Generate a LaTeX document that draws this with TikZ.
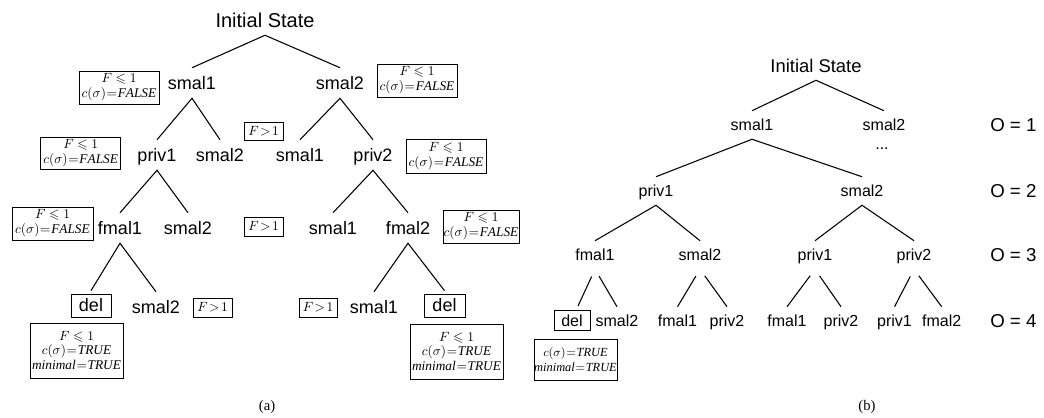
\documentclass[tikz,border=0pt]{standalone}
\usepackage{amssymb}
\usepackage{fontspec}
\setmainfont{Liberation Serif}
\newfontfamily\labelfont{Liberation Sans}
\newcommand{\eqsign}{\mkern1mu{=}\mkern1mu}
\newcommand{\okF}{$F\leqslant1$}
\newcommand{\badF}{$F\mkern2mu{>}\mkern2mu1$}
\newcommand{\cfalse}{$c(\sigma)\eqsign\mathit{FALSE}$}
\newcommand{\ctrue}{$c(\sigma)\eqsign\mathit{TRUE}$}
\newcommand{\mintrue}{$\mathit{minimal}\eqsign\mathit{TRUE}$}
\begin{document}
\begin{tikzpicture}[x=0.75pt,y=-0.75pt,
  lft/.style={font=\labelfont\fontsize{13.5}{16}\selectfont, inner sep=0pt,
    text height=9.7pt, text depth=0pt, minimum height=22.5pt},
  lroot/.style={lft, font=\labelfont\fontsize{15}{18}\selectfont, text height=10.7pt},
  rgt/.style={font=\labelfont\fontsize{12}{14}\selectfont, inner sep=0pt,
    text height=8.6pt, text depth=0pt, minimum height=21pt},
  rroot/.style={rgt, font=\labelfont\fontsize{13.8}{16}\selectfont, text height=9.9pt},
  cond/.style={draw, line width=0.6pt, inner sep=0pt,
    font=\fontsize{10}{11.2}\selectfont, align=center},
  twoline/.style={cond, minimum width=60pt, minimum height=24.75pt},
  gtbox/.style={cond, minimum width=29.25pt, minimum height=14.25pt},
  delbox/.style={draw, line width=0.6pt, inner sep=0pt},
  edge/.style={line width=0.8pt},
  levellab/.style={font=\labelfont\fontsize{14}{16}\selectfont, anchor=west, inner sep=0pt},
  caption/.style={font=\fontsize{11}{13}\selectfont}]
\useasboundingbox (0,0) rectangle (1044,417);

% ---------------- tree (a) ----------------
\node[lroot] (a0) at (265,20) {Initial State};
\node[lft] (a1) at (192,83) {smal1};
\node[lft] (a2) at (340,83) {smal2};
\node[lft] (a11) at (157,155) {priv1};
\node[lft] (a12) at (220,155) {smal2};
\node[lft] (a21) at (300,155) {smal1};
\node[lft] (a22) at (373,155) {priv2};
\node[lft] (a111) at (120,228) {fmal1};
\node[lft] (a112) at (188,228) {smal2};
\node[lft] (a221) at (333,228) {smal1};
\node[lft] (a222) at (408,228) {fmal2};
\node[lft, delbox, minimum width=30pt, minimum height=17.25pt, outer sep=2.5pt] (a1111) at (91,305.5) {del};
\node[lft] (a1112) at (156,307) {smal2};
\node[lft] (a2221) at (374,307) {smal1};
\node[lft, delbox, minimum width=30.75pt, minimum height=17.25pt, outer sep=2.5pt] (a2222) at (444.5,305.5) {del};

\draw[edge] (a1.north) -- (a0.south) -- (a2.north);
\draw[edge] (a11.north) -- (a1.south) -- (a12.north);
\draw[edge] (a21.north) -- (a2.south) -- (a22.north);
\draw[edge] (a111.north) -- (a11.south) -- (a112.north);
\draw[edge] (a221.north) -- (a22.south) -- (a222.north);
\draw[edge] (a1111.north) -- (a111.south) -- (a1112.north);
\draw[edge] (a2221.north) -- (a222.south) -- (a2222.north);

% conditions attached to the states of tree (a)
\node[twoline] (ca1) at (119,87.5) {\okF\\\cfalse};
\node[twoline] (ca2) at (417,80.5) {\okF\\\cfalse};
\node[twoline, minimum height=24pt] (ca11) at (80.7,153) {\okF\\\cfalse};
\node[twoline, minimum height=25.5pt] (ca22) at (446,156) {\okF\\\cfalse};
\node[twoline, minimum width=60.75pt] (ca111) at (52.5,223.5) {\okF\\\cfalse};
\node[twoline, minimum width=57pt] (ca222) at (481,226.5) {\okF\\\cfalse};
\node[gtbox, minimum height=13.5pt] (ga1) at (263.5,131) {\badF};
\node[gtbox] (ga2) at (263.5,226.5) {\badF};
\node[gtbox] (ga3) at (212.5,307.5) {\badF};
\node[gtbox, minimum width=28.5pt] (ga4) at (318,307.5) {\badF};
\node[cond, minimum width=69.75pt, minimum height=41.25pt] (ta1) at (76.5,350.5)
  {\okF\\\ctrue\\\mintrue};
\node[cond, minimum width=69.75pt, minimum height=41.25pt] (ta2) at (456.5,351.5)
  {\okF\\\ctrue\\\mintrue};

\node[caption] (capa) at (267,407) {(a)};

% ---------------- tree (b) ----------------
\node[rroot] (b0) at (816,66) {Initial State};
\node[rgt] (b1) at (752,125) {smal1};
\node[rgt] (b2) at (884,125) {smal2};
\node[rgt] (bdots) at (882,144) {...};
\node[rgt] (b11) at (656,191) {priv1};
\node[rgt] (b12) at (862,191) {smal2};
\node[rgt] (b111) at (595,255) {fmal1};
\node[rgt] (b112) at (700,255) {smal2};
\node[rgt] (b121) at (815,255) {priv1};
\node[rgt] (b122) at (914,255) {priv2};
\node[rgt, delbox, minimum width=27pt, minimum height=15pt, outer sep=3.5pt] (b1111) at (572,320.7) {del};
\node[rgt] (b1112) at (617,321) {smal2};
\node[rgt] (b1121) at (677.5,321) {fmal1};
\node[rgt] (b1122) at (727,321) {priv2};
\node[rgt] (b1211) at (787,321) {fmal1};
\node[rgt] (b1212) at (841,321) {priv2};
\node[rgt] (b1221) at (894.5,321) {priv1};
\node[rgt] (b1222) at (941.7,321) {fmal2};

\draw[edge] (b1.north) -- (b0.south) -- (b2.north);
\draw[edge] (b11.north) -- (b1.south) -- (b12.north);
\draw[edge] (b111.north) -- (b11.south) -- (b112.north);
\draw[edge] (b121.north) -- (b12.south) -- (b122.north);
\begin{scope}[edge]
\draw[shorten <=6pt] (b111.south) -- ([xshift=4.5pt]b1111.north);
\draw[shorten <=6pt] (b111.south) -- (b1112.north);
\draw[shorten <=6pt] (b112.south) -- (b1121.north);
\draw[shorten <=6pt] (b112.south) -- (b1122.north);
\draw[shorten <=6pt] (b121.south) -- (b1211.north);
\draw[shorten <=6pt] (b121.south) -- (b1212.north);
\draw[shorten <=6pt] (b122.south) -- (b1221.north);
\draw[shorten <=6pt] (b122.south) -- (b1222.north);
\end{scope}

\node[cond, font=\fontsize{9.3}{11}\selectfont, minimum width=62.25pt, minimum height=30.75pt] (tb1) at (575.5,359.5)
  {\ctrue\\\mintrue};

% depth of the search
\node[levellab] (o1) at (990,125) {O = 1};
\node[levellab] (o2) at (990,191) {O = 2};
\node[levellab] (o3) at (990,255) {O = 3};
\node[levellab] (o4) at (990,321) {O = 4};

\node[caption] (capb) at (867,407) {(b)};
\end{tikzpicture}
\end{document}
